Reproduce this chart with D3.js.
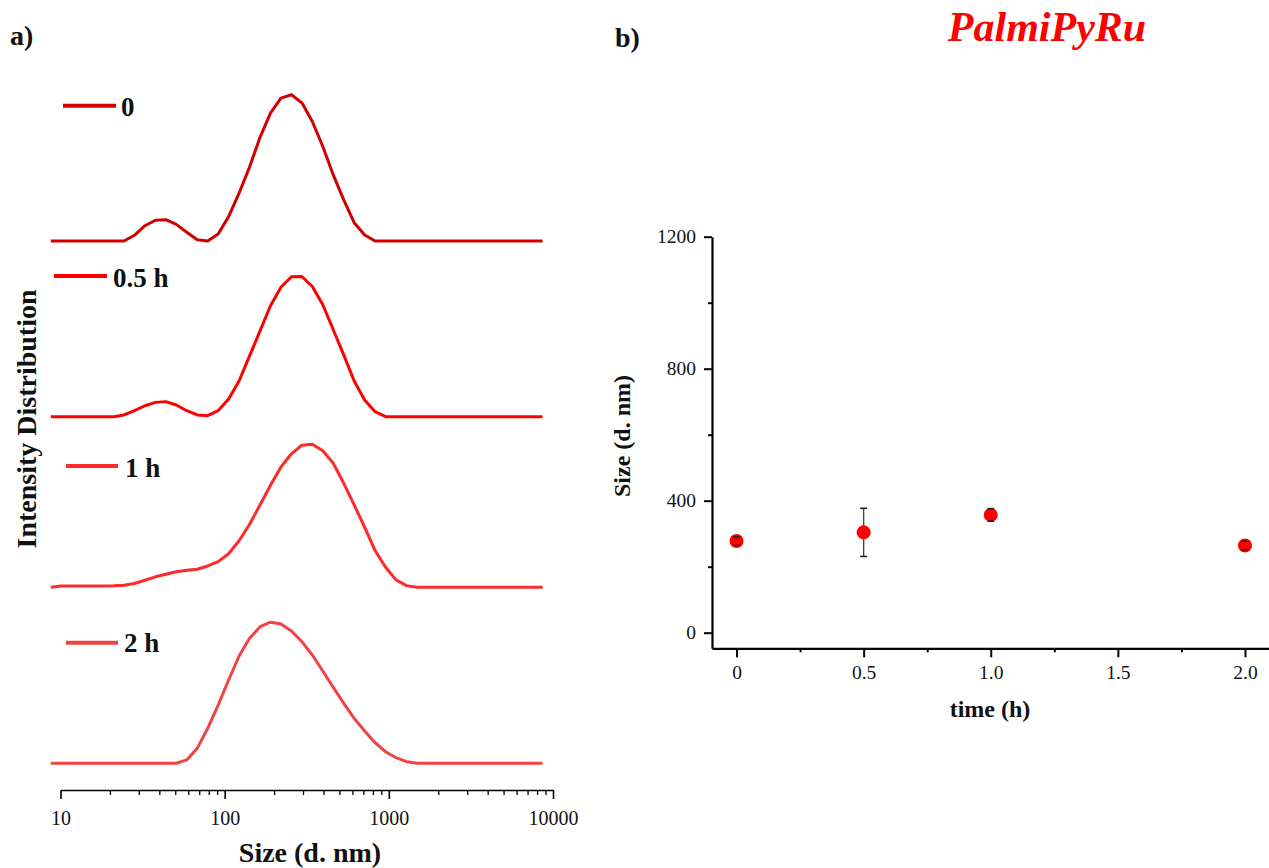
<!DOCTYPE html>
<html>
<head>
<meta charset="utf-8">
<script src="https://cdn.jsdelivr.net/npm/d3@7"></script>
<style>
  body { margin: 0; background: #fff; }
  svg { display: block; }
  text { font-family: 'Liberation Serif', 'Times New Roman', serif; }
</style>
</head>
<body>
<svg id="chart" width="1269" height="868"></svg>
<script>
// ---------- data: DLS intensity distributions (panel a) ----------
const sizeBins = [8.721, 10.1, 11.7, 13.54, 15.69, 18.17, 21.04, 24.36, 28.21, 32.67,
  37.84, 43.82, 50.75, 58.77, 68.06, 78.82, 91.28, 105.7, 122.4, 141.8,
  164.2, 190.1, 220.2, 255.0, 295.3, 342.0, 396.1, 458.7, 531.2, 615.1,
  712.4, 825.0, 955.4, 1106, 1281, 1484, 1718, 1990, 2305, 2669,
  3091, 3580, 4145, 4801, 5560, 6439, 7456, 8635];

const seriesLabels = ["0", "0.5 h", "1 h", "2 h"];

const intensity0h = [0, 0, 0, 0, 0, 0, 0, 0, 0.46, 1.23,
  1.67, 1.71, 1.34, 0.70, 0.10, 0, 0.56, 1.96, 3.84, 5.95,
  8.33, 10.27, 11.48, 11.75, 11.10, 9.60, 7.59, 5.31, 3.30, 1.47,
  0.48, 0, 0, 0, 0, 0, 0, 0, 0, 0,
  0, 0, 0, 0, 0, 0, 0, 0];

const intensity05h = [0, 0, 0, 0, 0, 0, 0, 0.14, 0.48, 0.88,
  1.15, 1.21, 0.94, 0.48, 0.14, 0.08, 0.48, 1.42, 2.87, 4.88,
  6.89, 8.91, 10.40, 11.24, 11.26, 10.46, 8.99, 6.98, 4.96, 2.87,
  1.34, 0.40, 0, 0, 0, 0, 0, 0, 0, 0,
  0, 0, 0, 0, 0, 0, 0, 0];

const intensity1h = [0, 0.10, 0.10, 0.10, 0.10, 0.10, 0.12, 0.16, 0.30, 0.56,
  0.84, 1.04, 1.25, 1.37, 1.45, 1.71, 2.06, 2.69, 3.74, 5.06,
  6.61, 8.19, 9.66, 10.72, 11.41, 11.49, 10.97, 9.96, 8.35, 6.61,
  4.82, 2.94, 1.61, 0.59, 0.13, 0, 0, 0, 0, 0,
  0, 0, 0, 0, 0, 0, 0, 0];

const intensity2h = [0, 0, 0, 0, 0, 0, 0, 0, 0, 0,
  0, 0, 0, 0.27, 1.20, 2.81, 4.68, 6.69, 8.62, 10.04,
  10.97, 11.33, 11.19, 10.63, 9.77, 8.70, 7.41, 6.10, 4.82, 3.61,
  2.59, 1.65, 0.93, 0.45, 0.13, 0, 0, 0, 0, 0,
  0, 0, 0, 0, 0, 0, 0, 0];

// vertical offset of each stacked trace (intensity units)
const stackOffsets = [41.95, 27.84, 14.14, 0];
const sizeTickValues = [10, 100, 1000, 10000];

// ---------- data: mean size vs time (panel b) ----------
const timeHours = [0, 0.5, 1.0, 2.0];
const meanSize = [278, 304, 357, 264];
const sizeError = [13, 73, 19, 13];
const sizeAxisTicks = [0, 400, 800, 1200];
const sizeAxisMinor = [200, 600, 1000];
const timeAxisTicks = [0, 0.5, 1.0, 1.5, 2.0];
const timeAxisMinor = [0.25, 0.75, 1.25, 1.75];

// ---------- drawing ----------
const svg = d3.select("#chart");
const FONT = "'Liberation Serif', 'Times New Roman', serif";
const traceColors = ["#d00000", "#ff0000", "#ff2a2a", "#f04444"];
const seriesValues = [intensity0h, intensity05h, intensity1h, intensity2h];

function styleAxis(g, size) {
  g.attr("font-family", FONT).attr("font-size", size);
  g.selectAll("text").attr("fill", "#111");
  g.selectAll("path.domain").attr("stroke", "#000");
  g.selectAll("line").attr("stroke", "#000");
}

// Panel a
const xA = d3.scaleLog().domain([10, 10000]).range([60.5, 553]);
const yA = d3.scaleLinear().domain([0, 50]).range([763.3, 763.3 - 50 * 12.45]);

const minorLog = [];
for (const dec of [10, 100, 1000]) for (let k = 2; k <= 9; k++) minorLog.push(dec * k);

const axA = svg.append("g").attr("transform", "translate(0,790)")
  .call(d3.axisBottom(xA).tickValues(sizeTickValues).tickFormat(d3.format("d"))
    .tickSize(9).tickSizeOuter(0).tickPadding(12));
styleAxis(axA, 20);
axA.select("path.domain").attr("stroke-width", 1.6);
axA.selectAll(".tick line").attr("stroke-width", 1.6);

const axAMinor = svg.append("g").attr("transform", "translate(0,790)")
  .call(d3.axisBottom(xA).tickValues(minorLog).tickFormat("").tickSize(5).tickSizeOuter(0));
axAMinor.select("path.domain").remove();
axAMinor.selectAll("line").attr("stroke", "#000").attr("stroke-width", 1.3);

const lineA = (offset) => d3.line()
  .x((d, i) => xA(sizeBins[i]))
  .y(d => yA(d + offset));

seriesValues.forEach((vals, s) => {
  svg.append("path")
    .datum(vals)
    .attr("d", lineA(stackOffsets[s]))
    .attr("fill", "none")
    .attr("stroke", traceColors[s])
    .attr("stroke-width", 3)
    .attr("stroke-linejoin", "round");
});

// legend entries next to each trace
const legendLayout = [
  { x1: 63, x2: 116, y: 105.7, tx: 121, ty: 116 },
  { x1: 54, x2: 107, y: 276, tx: 113, ty: 287 },
  { x1: 66, x2: 118, y: 466, tx: 125, ty: 477 },
  { x1: 66, x2: 118, y: 642.7, tx: 124, ty: 652 }
];
legendLayout.forEach((p, s) => {
  svg.append("line")
    .attr("x1", p.x1).attr("x2", p.x2).attr("y1", p.y).attr("y2", p.y)
    .attr("stroke", traceColors[s]).attr("stroke-width", 4);
  svg.append("text")
    .attr("x", p.tx).attr("y", p.ty)
    .attr("font-size", 27).attr("font-weight", "bold").attr("fill", "#111")
    .text(seriesLabels[s]);
});

svg.append("text").attr("x", 310).attr("y", 862).attr("text-anchor", "middle")
  .attr("font-size", 28).attr("font-weight", "bold").attr("fill", "#111")
  .text("Size (d. nm)");
svg.append("text").attr("transform", "translate(36,419) rotate(-90)").attr("text-anchor", "middle")
  .attr("font-size", 28).attr("font-weight", "bold").attr("fill", "#111")
  .text("Intensity Distribution");
svg.append("text").attr("x", 10).attr("y", 45)
  .attr("font-size", 28).attr("font-weight", "bold").attr("fill", "#111").text("a)");

// Panel b
const xB = d3.scaleLinear().domain([-0.0965, 2.0945]).range([712, 1269]);
const yB = d3.scaleLinear().domain([-47.3, 1200]).range([648.3, 236.7]);

const axBx = svg.append("g").attr("transform", "translate(0,648.3)")
  .call(d3.axisBottom(xB).tickValues(timeAxisTicks)
    .tickFormat(d => d === 0 ? "0" : d3.format(".1f")(d))
    .tickSize(9).tickSizeOuter(0).tickPadding(8));
styleAxis(axBx, 19.5);
axBx.select("path.domain").attr("stroke-width", 2.2);
axBx.selectAll(".tick line").attr("stroke-width", 2);

const axBxMinor = svg.append("g").attr("transform", "translate(0,648.3)")
  .call(d3.axisBottom(xB).tickValues(timeAxisMinor).tickFormat("").tickSize(4).tickSizeOuter(0));
axBxMinor.select("path.domain").remove();
axBxMinor.selectAll("line").attr("stroke", "#000").attr("stroke-width", 2);

const axBy = svg.append("g").attr("transform", "translate(712,0)")
  .call(d3.axisLeft(yB).tickValues(sizeAxisTicks).tickFormat(d3.format("d"))
    .tickSize(8).tickSizeOuter(0).tickPadding(8));
styleAxis(axBy, 19.5);
axBy.select("path.domain").attr("stroke-width", 2.2);
axBy.selectAll(".tick line").attr("stroke-width", 2);

const axByMinor = svg.append("g").attr("transform", "translate(712,0)")
  .call(d3.axisLeft(yB).tickValues(sizeAxisMinor).tickFormat("").tickSize(4).tickSizeOuter(0));
axByMinor.select("path.domain").remove();
axByMinor.selectAll("line").attr("stroke", "#000").attr("stroke-width", 2);

const pts = timeHours.map((t, i) => ({ t, m: meanSize[i], e: sizeError[i] }));

// error-bar stems sit behind the markers, caps in front
svg.append("g").selectAll("line").data(pts).join("line")
  .attr("x1", d => xB(d.t)).attr("x2", d => xB(d.t))
  .attr("y1", d => yB(d.m - d.e)).attr("y2", d => yB(d.m + d.e))
  .attr("stroke", "#444").attr("stroke-width", 1.4);

svg.append("g").selectAll("circle").data(pts).join("circle")
  .attr("cx", d => xB(d.t)).attr("cy", d => yB(d.m)).attr("r", 7)
  .attr("fill", "#ff0000");

const caps = svg.append("g");
pts.forEach(d => {
  [d.m - d.e, d.m + d.e].forEach(v => {
    caps.append("line")
      .attr("x1", xB(d.t) - 3.5).attr("x2", xB(d.t) + 3.5)
      .attr("y1", yB(v)).attr("y2", yB(v))
      .attr("stroke", "#222").attr("stroke-width", 1.6);
  });
});

svg.append("text").attr("x", 990).attr("y", 717).attr("text-anchor", "middle")
  .attr("font-size", 24).attr("font-weight", "bold").attr("fill", "#111")
  .text("time (h)");
svg.append("text").attr("transform", "translate(630,436) rotate(-90)").attr("text-anchor", "middle")
  .attr("font-size", 24).attr("font-weight", "bold").attr("fill", "#111")
  .text("Size (d. nm)");
svg.append("text").attr("x", 615).attr("y", 47)
  .attr("font-size", 28).attr("font-weight", "bold").attr("fill", "#111").text("b)");
svg.append("text").attr("x", 1047).attr("y", 41).attr("text-anchor", "middle")
  .attr("font-size", 42).attr("font-weight", "bold").attr("font-style", "italic")
  .attr("fill", "#ff0000").text("PalmiPyRu");
</script>
</body>
</html>
